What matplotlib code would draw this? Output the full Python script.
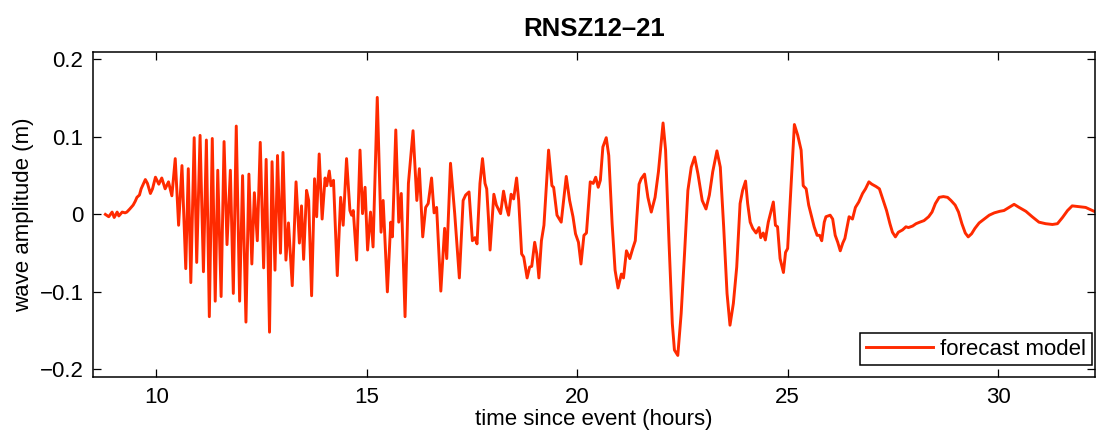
import matplotlib
matplotlib.use("Agg")
import matplotlib.pyplot as plt

plt.rcParams['font.family'] = ['Liberation Sans', 'DejaVu Sans']

# time since event (hours)
hours = [
    8.79, 8.87, 8.95, 9.00, 9.07, 9.11, 9.19, 9.26, 9.30, 9.37, 9.45, 9.50, 9.54, 9.60,
    9.64, 9.70, 9.74, 9.79, 9.86, 9.91, 9.98, 10.06, 10.13, 10.21, 10.29, 10.37, 10.45,
    10.53, 10.61, 10.70, 10.76, 10.82, 10.90, 10.96, 11.04, 11.12, 11.19, 11.26, 11.33,
    11.40, 11.46, 11.54, 11.61, 11.68, 11.76, 11.83, 11.90, 11.98, 12.05, 12.13, 12.20,
    12.27, 12.33, 12.40, 12.47, 12.55, 12.61, 12.69, 12.75, 12.82, 12.88, 12.95, 13.01,
    13.08, 13.14,
    13.23, 13.32, 13.40, 13.45, 13.50, 13.57, 13.62, 13.69, 13.76, 13.81, 13.87, 13.94,
    14.01, 14.05, 14.11, 14.15, 14.21, 14.30, 14.38, 14.44, 14.52, 14.60, 14.64, 14.68,
    14.76, 14.84, 14.90, 14.96, 15.02, 15.09, 15.15, 15.25, 15.34, 15.39, 15.49, 15.57,
    15.61, 15.69, 15.76, 15.82, 15.91, 15.99, 16.10, 16.19, 16.25, 16.33, 16.40, 16.46,
    16.54, 16.60, 16.66, 16.76, 16.85, 16.90, 16.99, 17.09, 17.20, 17.29, 17.35, 17.43,
    17.51, 17.57, 17.62, 17.69, 17.75, 17.81, 17.85, 17.89, 17.93, 18.02, 18.08, 18.18,
    18.25, 18.32, 18.37, 18.43, 18.49, 18.56, 18.61, 18.68, 18.73, 18.81, 18.87, 18.92,
    18.99, 19.04, 19.09, 19.15, 19.21, 19.32, 19.40, 19.44, 19.52, 19.62, 19.74, 19.82,
    19.90, 19.96, 20.03, 20.09, 20.16, 20.22, 20.31, 20.38, 20.44, 20.50, 20.55, 20.61,
    20.69, 20.75, 20.83, 20.90, 20.97, 21.05, 21.10, 21.17, 21.25, 21.32, 21.38, 21.47,
    21.52, 21.60, 21.68, 21.76, 21.85, 21.93,
    22.04, 22.10, 22.18, 22.26, 22.31, 22.39, 22.47, 22.55, 22.63, 22.71, 22.79, 22.87,
    22.97, 23.06, 23.14, 23.22, 23.32, 23.40, 23.48, 23.56, 23.63, 23.71, 23.79, 23.87,
    23.93, 24.00, 24.05, 24.11, 24.17, 24.25, 24.32, 24.36, 24.42, 24.47, 24.54, 24.61,
    24.66, 24.71, 24.76, 24.82, 24.90, 24.95, 25.00, 25.08, 25.16, 25.24, 25.32, 25.37,
    25.44, 25.50, 25.57, 25.63, 25.70, 25.76, 25.81, 25.87, 25.91, 26.01, 26.07, 26.13,
    26.19, 26.25, 26.31, 26.36,
    26.46, 26.54, 26.61, 26.69, 26.78, 26.85, 26.93, 27.00, 27.10, 27.18, 27.26, 27.35,
    27.43, 27.49, 27.56, 27.63, 27.73, 27.81, 27.87, 27.97, 28.05, 28.14, 28.24, 28.35,
    28.43, 28.51, 28.60, 28.70, 28.80, 28.88, 28.98, 29.06, 29.14, 29.22, 29.29, 29.37,
    29.45, 29.55, 29.67, 29.79, 29.91, 30.04, 30.14, 30.26, 30.38, 30.50, 30.66, 30.81,
    30.97, 31.13, 31.29, 31.41, 31.53, 31.65, 31.76, 31.92, 32.08, 32.28,
]

# wave amplitude (m)
amplitude = [
    0.000, -0.003, 0.003, -0.004, 0.003, -0.002, 0.003, 0.002, 0.003, 0.007, 0.012, 0.017,
    0.022, 0.025, 0.033, 0.040, 0.045, 0.040, 0.027, 0.033, 0.048, 0.039, 0.047, 0.033,
    0.042, 0.024, 0.072, -0.014, 0.063, -0.070, 0.059, -0.088, 0.099, -0.062, 0.102,
    -0.074, 0.096, -0.132, 0.098, -0.112, 0.057, -0.106, 0.094, -0.039, 0.057, -0.102,
    0.114, -0.112, 0.050, -0.139, 0.052, -0.064, 0.028, -0.034, 0.093, -0.069, 0.071,
    -0.152, 0.068, -0.072, 0.076, -0.050, 0.080, -0.059, -0.011,
    -0.092, 0.042, -0.037, 0.011, -0.058, 0.031, 0.018, -0.105, 0.046, -0.003, 0.078,
    -0.006, 0.047, 0.037, 0.056, 0.037, 0.044, -0.079, 0.022, -0.014, 0.072, 0.005,
    -0.001, 0.005, -0.059, 0.083, 0.001, 0.035, -0.046, 0.003, -0.042, 0.151, -0.023,
    0.018, -0.100, -0.010, -0.029, 0.109, -0.010, 0.027, -0.132, 0.040, 0.108, 0.018,
    0.059, -0.029, 0.009, 0.014, 0.047, 0.002, 0.009, -0.099, -0.018, -0.057, 0.066,
    0.001, -0.082, 0.018, 0.025, 0.029,
    -0.034, -0.030, -0.038, 0.040, 0.072, 0.040, 0.033, -0.003, -0.046, 0.026, 0.012,
    0.001, 0.030, 0.009, -0.001, 0.026, 0.020, 0.047, 0.018, -0.051, -0.055, -0.082,
    -0.068, -0.067, -0.036, -0.051, -0.082, -0.034, -0.014, 0.083, 0.037, 0.035, -0.001,
    -0.010, 0.049, 0.018, -0.003, -0.025, -0.036, -0.064, -0.027, -0.024, 0.042, 0.040,
    0.048, 0.035, 0.044, 0.087, 0.099, 0.076, -0.012, -0.072, -0.095, -0.077, -0.082,
    -0.047, -0.057, -0.044, -0.034, 0.039, 0.046, 0.052, 0.022, 0.003, 0.022, 0.055,
    0.118, 0.083, -0.034, -0.141, -0.175, -0.182, -0.128, -0.051, 0.031, 0.061, 0.074,
    0.052, 0.018, 0.007, 0.025, 0.055, 0.082, 0.061, -0.016, -0.102, -0.143, -0.115,
    -0.068, 0.014, 0.031, 0.043, 0.014, -0.010, -0.018, -0.024, -0.017, -0.030, -0.024,
    -0.033, -0.010, 0.005, 0.016, -0.014, -0.016, -0.057, -0.075, -0.049, -0.044, 0.035,
    0.116, 0.102, 0.083, 0.037, 0.033, 0.012, -0.003, -0.016, -0.027, -0.027, -0.034,
    -0.010, -0.003, -0.001, -0.006, -0.027, -0.036, -0.047, -0.037, -0.031,
    -0.003, -0.006, 0.009, 0.016, 0.027, 0.033, 0.042, 0.039, 0.036, 0.033, 0.020,
    0.005, -0.012, -0.023, -0.029, -0.023, -0.020, -0.016, -0.017, -0.015, -0.012,
    -0.010, -0.008, -0.003, 0.003, 0.014, 0.022, 0.023, 0.022, 0.018, 0.012, 0.003,
    -0.012, -0.024, -0.029, -0.025, -0.018, -0.011, -0.006, -0.001, 0.002, 0.004,
    0.005, 0.009, 0.013, 0.009, 0.004, -0.003, -0.010, -0.012, -0.013, -0.012, -0.004,
    0.005, 0.011, 0.010, 0.009, 0.004,
]

x_ticks = [10, 15, 20, 25, 30]
y_ticks = [-0.2, -0.1, 0, 0.1, 0.2]
y_tick_labels = ['\u22120.2', '\u22120.1', '0', '0.1', '0.2']

fig = plt.figure(figsize=(10.96, 4.38), dpi=100)
ax = fig.add_axes([0.085, 0.139, 0.914, 0.743])

ax.plot(hours, amplitude, color='#ff2a00', linewidth=2.1,
        solid_joinstyle='round', label='forecast model')

ax.set_xlim(8.5, 32.3)
ax.set_ylim(-0.21, 0.21)
ax.set_xticks(x_ticks)
ax.set_yticks(y_ticks)
ax.set_yticklabels(y_tick_labels)
ax.tick_params(direction='in', top=True, right=True, length=6, width=0.9,
               labelsize=16, pad=7)
for s in ax.spines.values():
    s.set_linewidth(1.1)

ax.set_title('RNSZ12\u201321', fontsize=18.5, fontweight='bold', pad=11)
ax.set_xlabel('time since event (hours)', fontsize=16, labelpad=1)
ax.set_ylabel('wave amplitude (m)', fontsize=16, labelpad=4)

leg = ax.legend(loc='lower right', bbox_to_anchor=(0.997, 0.037), borderaxespad=0,
                fontsize=16, fancybox=False, framealpha=1, edgecolor='black',
                borderpad=0.25, handlelength=3.0, handletextpad=0.35)
leg.get_frame().set_linewidth(1.1)

fig.savefig('out.png', dpi=100)
